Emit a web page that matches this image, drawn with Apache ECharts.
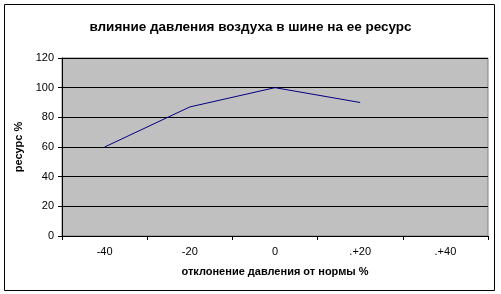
<!DOCTYPE html>
<html><head><meta charset="utf-8">
<script src="https://cdn.jsdelivr.net/npm/echarts@6/dist/echarts.min.js"></script>
<style>html,body{margin:0;padding:0;background:#fff}#c{width:501px;height:294px}</style>
</head><body><div id="c"></div>
<script>
var categories = ['-40', '-20', '0', '.+20', '.+40'];
var values = [60, 87, 100, 90, null];
var yTicks = [0, 20, 40, 60, 80, 100, 120];
var titleText = 'влияние давления воздуха в шине на ее ресурс';
var xName = 'отклонение давления от нормы %';
var yName = 'ресурс %';

var chart = echarts.init(document.getElementById('c'), null, {renderer: 'canvas'});
var font = 'Liberation Sans, Arial, sans-serif';
chart.setOption({
  animation: false,
  backgroundColor: '#fff',
  title: {text: titleText, left: 'center', top: 15,
    textStyle: {fontFamily: font, fontSize: 13.5, fontWeight: 'bold', color: '#000'}},
  graphic: [{type: 'rect', shape: {x: 4.5, y: 4.5, width: 490, height: 286},
    style: {fill: null, stroke: '#000', lineWidth: 1}, z: 100}],
  grid: {left: 62, right: 13, top: 58, bottom: 58, show: true, backgroundColor: '#c0c0c0',
    borderColor: '#808080', borderWidth: 1},
  xAxis: {type: 'category', data: categories, boundaryGap: true,
    name: xName, nameLocation: 'middle', nameGap: 30,
    nameTextStyle: {fontFamily: font, fontSize: 11, fontWeight: 'bold', color: '#000'},
    axisLine: {lineStyle: {color: '#000', width: 1}},
    axisTick: {show: true, length: 4, lineStyle: {color: '#000'}},
    axisLabel: {fontFamily: font, fontSize: 11, color: '#000', margin: 10}},
  yAxis: {type: 'value', min: yTicks[0], max: yTicks[yTicks.length - 1], interval: 20,
    name: yName, nameLocation: 'middle', nameGap: 35, nameRotate: 90,
    nameTextStyle: {fontFamily: font, fontSize: 11, fontWeight: 'bold', color: '#000'},
    axisLine: {show: true, lineStyle: {color: '#000', width: 1}},
    axisTick: {show: true, length: 4, lineStyle: {color: '#000'}},
    axisLabel: {fontFamily: font, fontSize: 11, color: '#000', margin: 8},
    splitLine: {show: true, lineStyle: {color: '#000', width: 1}}},
  series: [{type: 'line', data: values, symbol: 'none', connectNulls: false,
    lineStyle: {color: '#000080', width: 1}}]
});
</script></body></html>
